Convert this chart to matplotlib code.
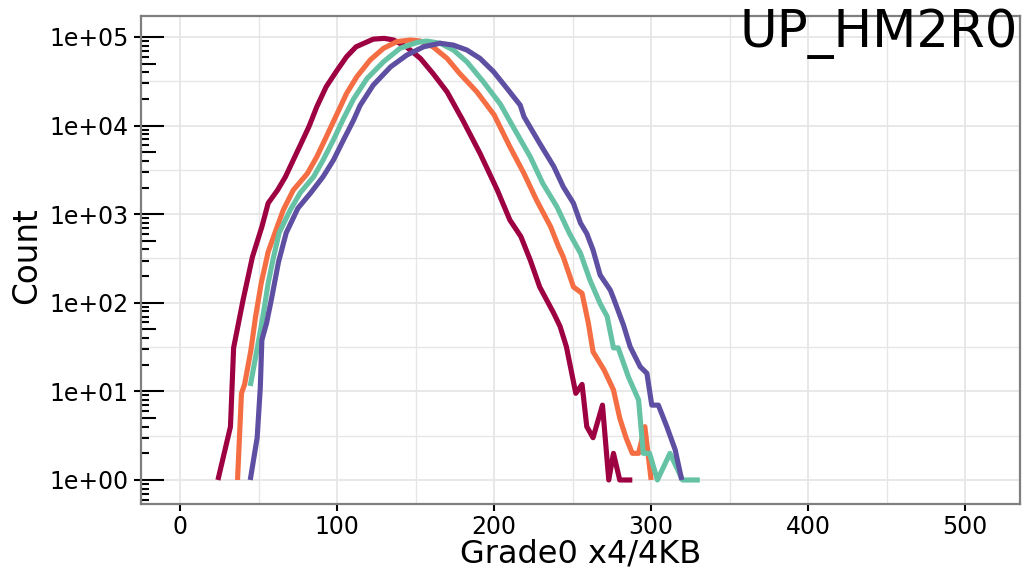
import numpy as np
import matplotlib
matplotlib.use('Agg')
import matplotlib.pyplot as plt
from matplotlib.ticker import FixedLocator, FuncFormatter, NullFormatter

# histogram counts, one series per curve
red_x = [24, 32, 34, 40, 46, 52, 56, 62, 67, 71, 76, 82, 87, 93, 100, 106, 112,
         123, 130, 136, 144, 153, 161, 170, 180, 191, 202, 210, 217, 223, 229,
         238, 242, 246, 252, 256, 259, 263, 269, 273, 276, 280, 288]
red_y = [1, 4, 31, 107, 330, 720, 1330, 1870, 2640, 3740, 5770, 9730, 16300,
         27500, 42300, 60000, 77500, 94600, 96500, 92500, 77500, 57300, 38800,
         24000, 11500, 4850, 1870, 860, 560, 303, 151, 76, 54, 32, 9.5, 12, 4,
         3, 7, 1, 2, 1, 1]

orange_x = [36.5, 39, 41, 45, 48, 51.6, 56, 61, 65.6, 72, 81, 87, 93, 100, 106,
            112.5, 121, 129.5, 138, 146.5, 153, 161, 170, 178, 189, 200, 210,
            219, 227, 236, 241, 244, 250.5, 256, 260, 263, 270, 276, 280, 284,
            288, 292, 296, 300]
orange_y = [1, 9.5, 12, 29, 70, 167, 374, 663, 1110, 1870, 2880, 4440, 7440,
            13700, 23100, 35600, 55000, 74500, 88600, 92500, 90100, 77500, 57300,
            38800, 24000, 13200, 5770, 2880, 1440, 720, 430, 330, 151, 128, 59,
            28, 17.5, 10.4, 5, 3, 2, 2, 4, 1]

teal_x = [44.6, 50, 53, 56, 59, 63, 70, 76.4, 85, 91, 97.6, 104, 110.4, 119,
          129.5, 140, 151, 157, 165.6, 174, 182.6, 193, 204, 212, 223, 231,
          240, 248, 255, 261, 267.5, 272, 276, 279, 285.5, 292, 295, 299, 304,
          312, 320, 331]
teal_y = [11.5, 38, 76, 166, 303, 615, 1110, 1740, 2650, 4080, 6900, 12000,
          19900, 34000, 52500, 74500, 87000, 90000, 85000, 71300, 52500, 31400,
          17400, 9730, 4440, 2220, 1210, 605, 362, 181, 98, 70, 31, 31, 14.6, 8,
          2, 2, 1, 2, 1, 1]

purple_x = [44.6, 49, 51, 52, 55, 58.4, 62.6, 67.5, 75, 83, 91, 97.6, 104,
            110.4, 114.6, 123, 134, 144.4, 155, 165.6, 174, 182.6, 191, 199.6,
            208, 216.6, 219, 229, 238, 244, 250.5, 255, 259, 263, 267.5, 274,
            276, 282.4, 286.6, 293, 297.3, 300.4, 304.6, 310, 315.3, 319.5]
purple_y = [1, 3, 11, 38, 59, 117, 288, 615, 1170, 1730, 2650, 4080, 6900,
            11500, 16900, 28700, 46000, 62600, 77500, 85000, 81000, 71300,
            57300, 40600, 26500, 17000, 12600, 6300, 3450, 2040, 1330, 795, 605,
            394, 206, 139, 113, 56, 32, 19, 16, 7, 7, 4, 2.2, 1]

series = [
    (red_x, red_y, '#9E0142'),
    (orange_x, orange_y, '#F46D43'),
    (teal_x, teal_y, '#66C2A5'),
    (purple_x, purple_y, '#5E4FA2'),
]

W, H = 1022, 571
fig = plt.figure(figsize=(W / 100, H / 100), dpi=100)
ax = fig.add_axes([141 / W, 1 - 504 / H, (1020 - 141) / W, (504 - 16) / H])
ax.set_yscale('log')
ax.set_xlim(-25, 535)
ax.set_ylim(10 ** -0.271, 10 ** 5.237)

for xs, ys, col in series:
    ax.plot(xs, ys, color=col, lw=3.7, solid_capstyle='butt',
            solid_joinstyle='round', zorder=3)

# grid
ax.xaxis.set_major_locator(FixedLocator([0, 100, 200, 300, 400, 500]))
ax.xaxis.set_minor_locator(FixedLocator([-50, 50, 150, 250, 350, 450, 550]))
ax.yaxis.set_major_locator(FixedLocator([10.0 ** k for k in range(0, 6)]))
ax.yaxis.set_minor_locator(FixedLocator([10.0 ** (k + 0.5) for k in range(-1, 6)]))
ax.yaxis.set_major_formatter(FuncFormatter(lambda v, p: '1e+%02d' % round(np.log10(v))))
ax.yaxis.set_minor_formatter(NullFormatter())
ax.grid(which='major', color='#E6E6E6', lw=1.3, zorder=0)
ax.grid(which='minor', color='#E6E6E6', lw=1.0, zorder=0)
ax.set_axisbelow(True)

ax.tick_params(which='major', direction='out', length=5, width=1.5,
               color='black', labelsize=17, pad=4)
ax.tick_params(axis='x', which='major', pad=3)
ax.tick_params(which='minor', length=0)

# log ticks drawn inside the left edge
ytr = ax.get_yaxis_transform()
for k in range(-1, 6):
    for m in range(1, 10):
        v = m * 10.0 ** k
        if v < ax.get_ylim()[0] or v > ax.get_ylim()[1]:
            continue
        L = 0.026 if m == 1 else (0.017 if m == 5 else 0.009)
        ax.plot([0, L], [v, v], transform=ytr, color='black', lw=1.5,
                solid_capstyle='butt', zorder=4)

for s in ax.spines.values():
    s.set_color('#7F7F7F')
    s.set_linewidth(1.6)
    s.set_zorder(5)

ax.set_xlabel('Grade0 x4/4KB', fontsize=23, va='baseline')
ax.xaxis.set_label_coords(0.5, -(563 - 504) / 488)
ax.set_ylabel('Count', fontsize=23.5, va='center')
ax.yaxis.set_label_coords((27 - 141) / 879, (504 - 256) / 488)

fig.text(1018 / W, 1 - 47 / H, 'UP_HM2R0', ha='right', va='baseline',
         fontsize=37)

fig.savefig('out.png', dpi=100)
